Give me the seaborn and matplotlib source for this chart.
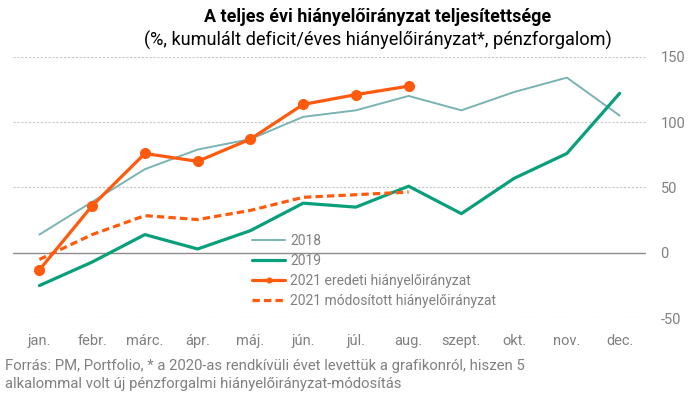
import numpy as np
import pandas as pd
import matplotlib
matplotlib.use("Agg")
import matplotlib.pyplot as plt
import seaborn as sns

months = ["jan.", "febr.", "márc.", "ápr.", "máj.", "jún.", "júl.", "aug.",
          "szept.", "okt.", "nov.", "dec."]
s2018 = [14, 39, 64, 79, 87, 104, 109, 120, 109, 123, 134, 105]
s2019 = [-25, -7, 14, 3, 17, 38, 35, 51, 30, 57, 76, 122]
s2021_orig = [-13, 36, 76, 70, 87, 113.5, 121, 127.5]
s2021_mod = [-5, 14, 28.5, 25.5, 32.5, 42.5, 44.5, 46.5]
yticks = [-50, 0, 50, 100, 150]
labels = ["2018", "2019", "2021 eredeti hiányelőirányzat",
          "2021 módosított hiányelőirányzat"]

title = "A teljes évi hiányelőirányzat teljesítettsége"
subtitle = "(%, kumulált deficit/éves hiányelőirányzat*, pénzforgalom)"
footer = ("Forrás: PM, Portfolio, * a 2020-as rendkívüli évet levettük a grafikonról, hiszen 5\n"
          "alkalommal volt új pénzforgalmi hiányelőirányzat-módosítás")

sns.set_theme(style="white")
plt.rcParams["font.family"] = ["Roboto", "DejaVu Sans"]

GRAY = "#808080"
C2018 = "#79b3b3"
C2019 = "#0a9f7b"
CORANGE = "#ff5a0d"

fig = plt.figure(figsize=(6.88, 3.95), dpi=100)
ax = fig.add_axes([13/688, 1-318.3/395, (646-13)/688, (318.3-56.7)/395])

pos = np.arange(len(months))
sns.lineplot(x=pos, y=s2018, ax=ax, color=C2018, lw=1.4, label=labels[0])
sns.lineplot(x=pos, y=s2019, ax=ax, color=C2019, lw=2.3, label=labels[1])
sns.lineplot(x=pos[:len(s2021_orig)], y=s2021_orig, ax=ax, color=CORANGE, lw=2.3,
             marker="o", markersize=8, markeredgewidth=0, label=labels[2])
sns.lineplot(x=pos[:len(s2021_mod)], y=s2021_mod, ax=ax, color=CORANGE, lw=2.3,
             linestyle=(0, (2.3, 1.3)), label=labels[3])

ax.set_xlim(-0.5, len(months) - 0.5)
ax.set_ylim(-50, 150)
ax.set_xticks(pos)
ax.set_xticklabels(months)
ax.set_yticks(yticks)
ax.set_yticklabels([str(v) for v in yticks])
ax.yaxis.tick_right()
ax.tick_params(axis="y", length=0, pad=10.5, labelsize=10.5, labelcolor=GRAY)
ax.tick_params(axis="x", length=0, pad=11, labelsize=10.5, labelcolor=GRAY)
for lab in ax.get_yticklabels():
    lab.set_horizontalalignment("left")
for sp in ax.spines.values():
    sp.set_visible(False)
for v in yticks:
    if v == 0:
        ax.axhline(v, color="#8c8c8c", lw=1.0, zorder=1)
    else:
        ax.axhline(v, color="#c8c8c8", lw=0.8, ls=(0, (2, 1.5)), zorder=1)
ax.set_xlabel("")
ax.set_ylabel("")

handles, labs = ax.get_legend_handles_labels()
leg = ax.legend(handles, labs, loc="upper left",
                bbox_to_anchor=(252/688, 1-234/395), bbox_transform=fig.transFigure,
                frameon=False, fontsize=10, labelcolor=GRAY, borderpad=0,
                borderaxespad=0, handlelength=2.4, handletextpad=0.35,
                labelspacing=0.42, markerscale=0.55)

fig.text(378/688, 1-17/395, title, ha="center", va="center", fontsize=12.9,
         fontweight="bold", color="black")
fig.text(378/688, 1-40/395, subtitle, ha="center", va="center", fontsize=13.1,
         color="black")
fig.text(5/688, 1-375/395, footer, ha="left", va="center", fontsize=10.7,
         color=GRAY, linespacing=1.4)

fig.savefig("out.png", dpi=100)
